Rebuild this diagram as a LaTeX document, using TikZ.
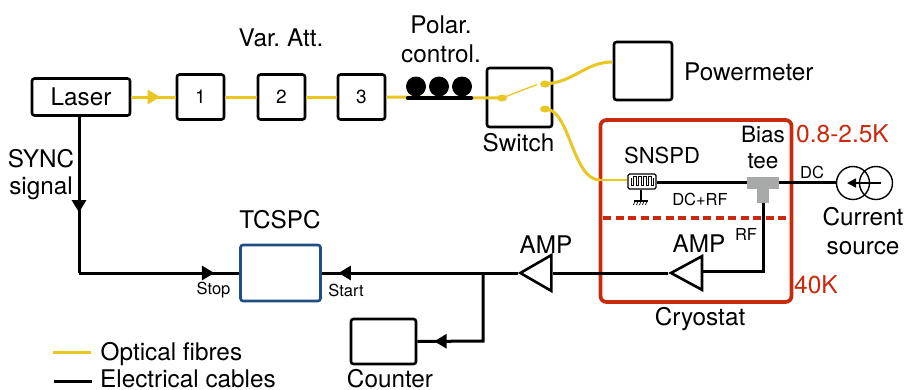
\documentclass[tikz,border=0pt]{standalone}
\usepackage{fontspec}
\setmainfont{TeX Gyre Heros}
\usetikzlibrary{arrows.meta,decorations.markings,shapes.geometric}
\definecolor{fib}{HTML}{EAC623}
\definecolor{cryo}{HTML}{C92A0E}
\definecolor{tcs}{HTML}{1F4E85}
\definecolor{teeg}{HTML}{A8A9A9}
\tikzset{
 x=1pt,y=-1pt,
 box/.style={draw=black,line width=2.6pt,rounded corners=2.5pt,inner sep=0pt,fill=white},
 fibre/.style={draw=fib,line width=3pt},
 cable/.style={draw=black,line width=3pt},
 lbl/.style={inner sep=0pt,font=\fontsize{24.3}{29}\selectfont,align=center},
 small/.style={inner sep=0pt,font=\fontsize{16.5}{19}\selectfont},
 redlbl/.style={inner sep=0pt,text=cryo,font=\fontsize{24.5}{29}\selectfont},
 midtip/.style 2 args={postaction={decorate},decoration={markings,mark=at position #1 with {\arrow{Triangle[length=12.5pt,width=14pt,#2]}}}},
 dot/.style={ellipse,fill=fib,minimum width=10pt,minimum height=7pt,inner sep=0pt},
 amptri/.style={draw=black,line width=2.6pt,fill=white,line join=miter},
}
\begin{document}
\begin{tikzpicture}
\useasboundingbox (0,0) rectangle (905,389);
% boxes
\node[box,minimum width=98pt,minimum height=37pt,font=\fontsize{24.3}{29}\selectfont] (laser) at (81,97) {Laser};
\node[box,minimum width=47pt,minimum height=45pt,font=\fontsize{19}{22}\selectfont] (b1) at (200.5,97) {1};
\node[box,minimum width=47pt,minimum height=45pt,font=\fontsize{19}{22}\selectfont] (b2) at (281.5,97) {2};
\node[box,minimum width=47pt,minimum height=45pt,font=\fontsize{19}{22}\selectfont] (b3) at (361.5,97) {3};
\node[box,minimum width=65pt,minimum height=59pt] (sw) at (519.5,97.5) {};
\node[box,minimum width=58pt,minimum height=58pt] (pm) at (643,71) {};
\node[box,draw=tcs,minimum width=80pt,minimum height=56pt] (tc) at (280.5,273) {};
\node[box,minimum width=65pt,minimum height=45pt] (cnt) at (383.5,341.5) {};
% cryostat
\node[draw=cryo,line width=3.7pt,rounded corners=6pt,minimum width=191pt,minimum height=182pt,inner sep=0pt] (cry) at (696,211) {};
\coordinate (dl) at (603,218);
\coordinate (dr) at (790,218);
\draw[draw=cryo,line width=3.7pt,dash pattern=on 8pt off 4.5pt] (dl) -- (dr);
% fibres
\draw[fibre,midtip={0.65}{fib}] (laser.east) -- (b1.west);
\draw[fibre] (b1.east) -- (b2.west);
\draw[fibre] (b2.east) -- (b3.west);
\node[dot] (d0) at (502,98) {};
\node[dot] (d1) at (545,84) {};
\node[dot] (d2) at (545,109) {};
\draw[fibre] (b3.east) -- (d0.center);
\coordinate (pmin) at (613,62);
\draw[fibre] (d1.center) .. controls (575,82) and (585,62) .. (pm.west |- pmin);
\coordinate (swt) at (537,84.5);
\draw[draw=fib,line width=1.3pt] (d0.center) -- (swt);
% polarisation control
\foreach \n/\xx in {p1/416,p2/439,p3/462}{\node[circle,fill=black,minimum size=20pt,inner sep=0pt] (\n) at (\xx,86.5) {};}
\coordinate (barl) at (408,98);
\coordinate (barr) at (471,98);
\draw[line width=4.5pt,line cap=round] (barl) -- (barr);
% SNSPD
\node[draw=black,line width=1.2pt,fill=white,rounded corners=1.5pt,minimum width=28pt,minimum height=15pt,inner sep=0pt] (sn) at (642,181.5) {};
\coordinate (snin) at (600,180);
\draw[fibre] (d2.center) .. controls (570,108) and (572,180) .. (snin);
\draw[draw=fib,line width=1.6pt] (snin) -- (sn.west |- snin);
\draw[line width=1pt,line join=miter] (631,178) -- (631,185) -- (633.5,185) -- (633.5,176.5) -- (636,176.5) -- (636,185) -- (638.5,185) -- (638.5,176.5) -- (641,176.5) -- (641,185) -- (643.5,185) -- (643.5,176.5) -- (646,176.5) -- (646,185) -- (648.5,185) -- (648.5,176.5) -- (651,176.5) -- (651,185) -- (653,185) -- (653,178);
\coordinate (gnd) at (641,201);
\draw[line width=1.6pt] (sn.south -| gnd) -- (gnd);
\draw[line width=1.6pt] (634,201) -- (648,201);
\foreach \xx in {635,638,641,644,647}{\draw[line width=0.7pt] (\xx,201) -- (\xx-1.5,205);}
% bias tee
\fill[teeg] (747,177) rectangle (779,189);
\fill[teeg] (757,189) rectangle (769,203);
\coordinate (teel) at (747,182);
\coordinate (teer) at (779,182);
\coordinate (teeb) at (763,203);
\draw[cable] (sn.east |- teel) -- (teel);
% current source
\node[circle,draw=black,line width=1.4pt,minimum size=33pt,inner sep=0pt] (cs1) at (853,183) {};
\node[circle,draw=black,line width=1.4pt,minimum size=33pt,inner sep=0pt] (cs2) at (876,183) {};
\draw[cable] (teer) -- (cs1.west |- teer);
\coordinate (csa) at (881,183);
\coordinate (csb) at (847,183);
\draw[line width=1.4pt,-{Triangle[length=9pt,width=9pt]}] (csa) -- (csb);
% amps
\coordinate (rfc) at (763,271);
\node[amptri,isosceles triangle,isosceles triangle apex angle=57,shape border rotate=180,minimum height=31pt,inner sep=0pt] (a1) at (692,273) {};
\node[amptri,isosceles triangle,isosceles triangle apex angle=60,shape border rotate=180,minimum height=31pt,inner sep=0pt] (a2) at (541,273) {};
\draw[cable] (teeb) -- (rfc) -- (a1.east |- rfc);
\draw[cable] (a1.west) -- (a2.east);
\draw[cable,midtip={0.915}{black}] (a2.west) -- (tc.east);
% sync
\coordinate (syc) at (79,273);
\draw[cable,midtip={0.613}{black}] (laser.south -| syc) -- (syc);
\draw[cable,midtip={0.845}{black}] (syc) -- (tc.west |- syc);
% counter
\coordinate (br) at (483,273);
\coordinate (bc) at (483,341);
\draw[cable,midtip={0.874}{black}] (br) -- (bc) -- (cnt.east);
% legend
\coordinate (lg1) at (53,352.5);
\coordinate (lg2) at (91,352.5);
\coordinate (lg3) at (54,381);
\coordinate (lg4) at (92,381);
\draw[fibre] (lg1) -- (lg2);
\draw[cable] (lg3) -- (lg4);
% labels
\node[lbl] (t1) at (281,38) {Var.\hspace{-2pt} Att.};
\node[lbl] (t2) at (441,39) {Polar.\\control.};
\node[lbl,anchor=west] (t3) at (684,72) {Powermeter};
\node[lbl] (t4) at (518.5,143) {Switch};
\node[lbl] (t5) at (41,175) {SYNC\\[-2pt]signal};
\node[lbl] (t6) at (280,220) {TCSPC};
\node[small] (t7) at (213.5,290) {Stop};
\node[small] (t8) at (346,290) {Start};
\node[lbl] (t9) at (546,245) {AMP};
\node[lbl] (t10) at (699,244) {AMP};
\node[lbl,font=\fontsize{22}{26}\selectfont] (t11) at (662,155) {SNSPD};
\node[lbl,font=\fontsize{22.5}{26}\selectfont] (t12) at (763,147) {Bias\\tee};
\node[small] (t13) at (700,199) {DC+RF};
\node[small] (t14) at (746,234) {RF};
\node[small] (t15) at (812,172) {DC};
\node[lbl] (t16) at (863,231) {Current\\source};
\node[redlbl,anchor=west] (t17) at (796,134) {0.8-2.5K};
\node[redlbl,anchor=west] (t18) at (794,285) {40K};
\node[lbl] (t19) at (700,319) {Cryostat};
\node[lbl,anchor=west] (t20) at (100.5,354) {Optical fibres};
\node[lbl,anchor=west] (t21) at (100,379) {Electrical cables};
\node[lbl] (t22) at (390,379) {Counter};
\end{tikzpicture}
\end{document}
